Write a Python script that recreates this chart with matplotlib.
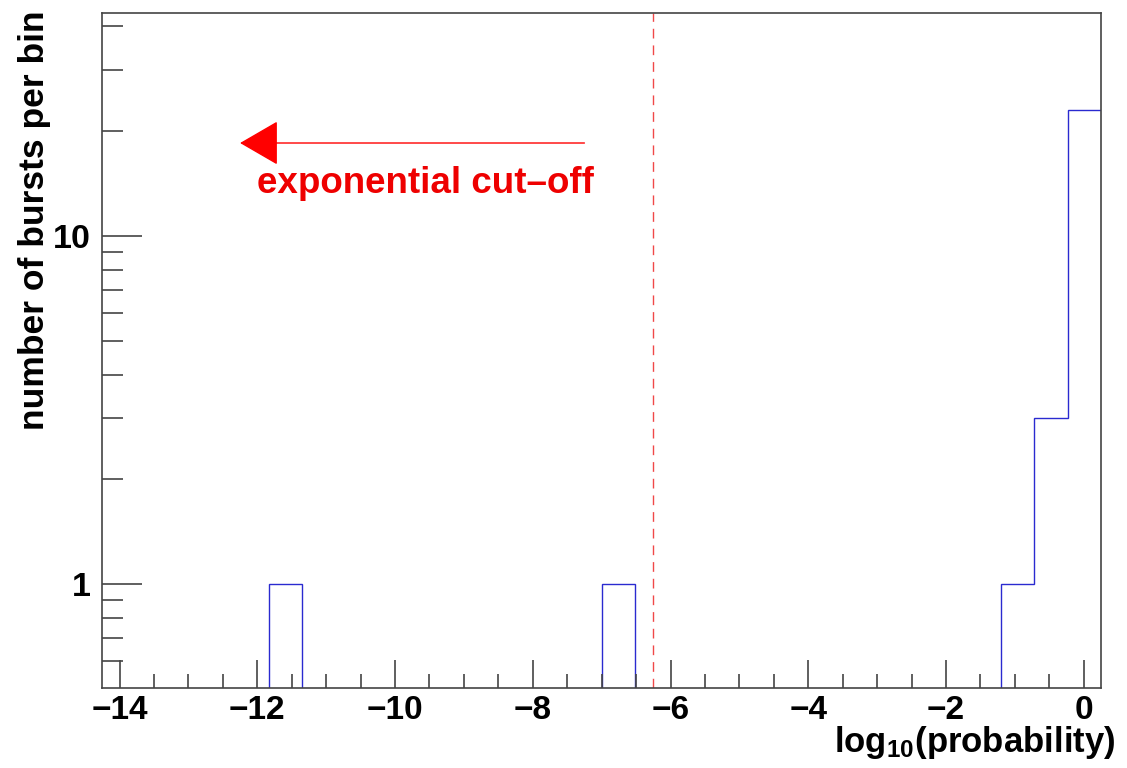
import numpy as np
import matplotlib
matplotlib.use("Agg")
import matplotlib.pyplot as plt
from matplotlib.ticker import FixedLocator, NullFormatter, FixedFormatter

plt.rcParams['font.family'] = ['Liberation Sans', 'DejaVu Sans']
plt.rcParams['font.weight'] = 'bold'
plt.rcParams['mathtext.fontset'] = 'custom'
plt.rcParams['mathtext.rm'] = 'Liberation Sans:bold'
plt.rcParams['mathtext.it'] = 'Liberation Sans:bold'
plt.rcParams['mathtext.bf'] = 'Liberation Sans:bold'

# histogram: 30 bins between -14.25 and 0.25
bin_lo, bin_hi, n_bins = -14.25, 0.25, 30
counts = [0, 0, 0, 0, 0, 1, 0, 0, 0, 0,
          0, 0, 0, 0, 0, 1, 0, 0, 0, 0,
          0, 0, 0, 0, 0, 0, 0, 1, 3, 23]
cutoff = -6.25
arrow_from = -7.25
arrow_to = -12.25
arrow_y = 18.5
label_text = "exponential cut\u2013off"

edges = np.linspace(bin_lo, bin_hi, n_bins + 1)
vals = np.array(counts, dtype=float)
vals = np.where(vals > 0, vals, 1e-3)  # empty bins drop below the log axis

fig = plt.figure(figsize=(11.27, 7.68), dpi=100)
ax = fig.add_axes([0.0908, 0.1038, 0.8861, 0.8792])

ax.stairs(vals, edges, baseline=None, color='#2a2ad0', lw=1.0)
ax.axvline(cutoff, color='#f04848', lw=1.0, ls=(0, (7, 5)))

ax.annotate("", xy=(arrow_to, arrow_y), xytext=(arrow_from, arrow_y),
            arrowprops=dict(arrowstyle='-|>,head_length=2.5,head_width=1.45',
                            color='#ff0000', lw=1.0, shrinkA=0, shrinkB=0))
ax.text(-12.0, 13.3, label_text, color='#ee0000', fontsize=26.5,
        fontweight='bold', ha='left', va='baseline')

ax.set_yscale('log')
ax.set_xlim(bin_lo, bin_hi)
ax.set_ylim(0.502, 43.7)

ax.xaxis.set_major_locator(FixedLocator(np.arange(-14, 1, 2)))
ax.xaxis.set_minor_locator(FixedLocator(np.arange(-14, 0.3, 0.5)))
ax.yaxis.set_major_locator(FixedLocator([1, 10]))
ax.yaxis.set_major_formatter(FixedFormatter(['1', '10']))
ax.yaxis.set_minor_locator(FixedLocator([0.6, 0.7, 0.8, 0.9, 2, 3, 4, 5, 6, 7, 8, 9, 20, 30, 40]))
ax.yaxis.set_minor_formatter(NullFormatter())

frame_col = '#444444'
for s in ax.spines.values():
    s.set_color(frame_col)
    s.set_linewidth(1.2)

ax.tick_params(axis='x', which='major', direction='in', length=20, width=1.2,
               color=frame_col, labelsize=24, pad=5)
ax.tick_params(axis='x', which='minor', direction='in', length=10, width=1.2,
               color=frame_col)
ax.tick_params(axis='y', which='major', direction='in', length=29, width=1.2,
               color=frame_col, labelsize=24.5, pad=8)
ax.tick_params(axis='y', which='minor', direction='in', length=15, width=1.2,
               color=frame_col)
for lab in ax.get_xticklabels() + ax.get_yticklabels():
    lab.set_fontweight('bold')

fig.text(0.990, 0.021, r"log$_{10}$(probability)", fontsize=25, fontweight='bold',
         ha='right', va='baseline')
fig.text(0.031, 0.987, "number of bursts per bin", fontsize=25.5, fontweight='bold',
         rotation=90, ha='center', va='top')

fig.savefig("out.png", dpi=100)
